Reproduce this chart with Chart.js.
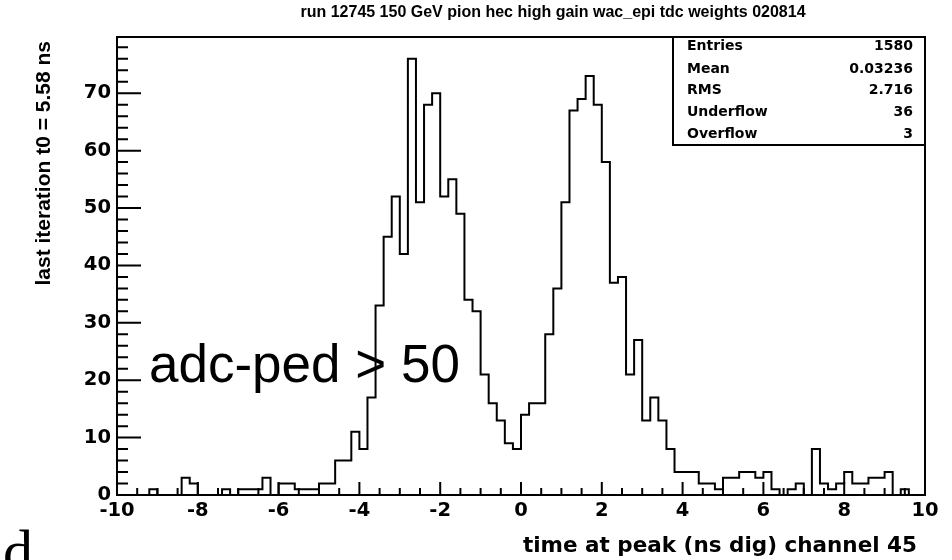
<!DOCTYPE html>
<html>
<head>
<meta charset="utf-8">
<script src="https://cdn.jsdelivr.net/npm/chart.js@4.4.1/dist/chart.umd.min.js"></script>
<style>
  body { margin: 0; background: #fff; }
  #wrap { width: 952px; height: 560px; }
</style>
</head>
<body>
<div id="wrap"><canvas id="mycanvas1" width="952" height="560"></canvas></div>
<script>
// histogram: 100 bins from -10 to 10
var xLow = -10, xHigh = 10, binWidth = 0.2;
var counts = [
  0, 0, 0, 0, 0, 1, 0, 0, 0, 3,
  2, 0, 0, 0, 1, 0, 1, 1, 1, 3,
  0, 2, 2, 1, 1, 1, 2, 2, 6, 6,
  11, 8, 17, 33, 45, 52, 42, 76, 51, 68,
  70, 52, 55, 49, 34, 32, 21, 16, 13, 9,
  8, 14, 16, 16, 28, 36, 51, 67, 69, 73,
  68, 58, 37, 38, 21, 27, 13, 17, 13, 8,
  4, 4, 4, 2, 2, 1, 3, 3, 4, 4,
  3, 4, 1, 0, 1, 2, 0, 8, 2, 1,
  2, 4, 2, 2, 3, 3, 4, 0, 1, 0
];
var xTicks = [-10, -8, -6, -4, -2, 0, 2, 4, 6, 8, 10];
var yTicks = [0, 10, 20, 30, 40, 50, 60, 70];
var yMax = 79.8;
var xMinorStep = 0.5, yMinorStep = 2;

var histTitle = "run 12745 150 GeV pion hec high gain wac_epi tdc weights 020814";
var xTitle = "time at peak (ns dig) channel 45";
var yTitle = "last iteration t0 = 5.58 ns";
var note = "adc-ped > 50";
var statsLabels = ["Entries", "Mean", "RMS", "Underflow", "Overflow"];
var statsValues = ["1580", "0.03236", "2.716", "36", "3"];

var pts = [];
for (var i = 0; i < counts.length; i++) {
  pts.push({ x: xLow + i * binWidth, y: counts[i] });
}
pts.push({ x: xHigh, y: counts[counts.length - 1] });

var font = "'Liberation Sans', Arial, Helvetica, sans-serif";
var wide = "'DejaVu Sans', Verdana, sans-serif";

var rootLook = {
  id: 'rootLook',
  beforeDraw: function(chart) {
    var c = chart.ctx;
    c.save();
    c.fillStyle = '#fff';
    c.fillRect(0, 0, chart.width, chart.height);
    c.restore();
  },
  afterDraw: function(chart) {
    var c = chart.ctx, a = chart.chartArea;
    var xs = chart.scales.x, ys = chart.scales.y;
    c.save();
    c.strokeStyle = '#000';
    c.fillStyle = '#000';
    c.lineWidth = 2;
    c.strokeRect(a.left, a.top, a.right - a.left, a.bottom - a.top);

    // ticks, drawn inward
    c.beginPath();
    for (var v = 0; v <= yMax; v += yMinorStep) {
      var py = ys.getPixelForValue(v);
      var len = (v % 10 === 0) ? 24 : 11;
      c.moveTo(a.left, py); c.lineTo(a.left + len, py);
    }
    for (var x = xLow; x <= xHigh + 1e-9; x += xMinorStep) {
      var px = xs.getPixelForValue(x);
      var l2 = (Math.abs(x % 2) < 1e-9) ? 13 : 7;
      c.moveTo(px, a.bottom); c.lineTo(px, a.bottom - l2);
    }
    c.stroke();

    // stats box
    var bx = 673;
    c.beginPath();
    c.moveTo(bx, a.top); c.lineTo(bx, 145); c.lineTo(a.right, 145);
    c.stroke();
    c.font = "bold 14px " + wide;
    c.textBaseline = 'middle';
    var rowsY = [46, 69, 90, 112, 134];
    for (var k = 0; k < statsLabels.length; k++) {
      c.textAlign = 'left';
      c.fillText(statsLabels[k], 687, rowsY[k]);
      c.textAlign = 'right';
      c.fillText(statsValues[k], 913, rowsY[k]);
    }

    // title
    c.font = "bold 16px " + font;
    c.textAlign = 'center';
    c.fillText(histTitle, 553, 13);

    // x title
    c.font = "bold 21.5px " + wide;
    c.textAlign = 'right';
    c.textBaseline = 'alphabetic';
    c.fillText(xTitle, 917, 552);

    // y title
    c.save();
    c.translate(50, 41);
    c.rotate(-Math.PI / 2);
    c.textAlign = 'right';
    c.font = "bold 21px " + font;
    c.fillText(yTitle, 0, 0);
    c.restore();

    // annotation
    c.font = "53px " + font;
    c.textAlign = 'left';
    c.fillText(note, 149, 382);

    // cut-off glyph at bottom left
    c.font = "60px 'Liberation Serif', 'DejaVu Serif', serif";
    c.fillText("d", 3, 571);
    c.restore();
  }
};

var ctx = document.getElementById('mycanvas1');
new Chart(ctx, {
  type: 'line',
  data: {
    datasets: [{
      label: 'hist',
      data: pts,
      stepped: 'after',
      borderColor: '#000',
      borderWidth: 2,
      pointRadius: 0,
      fill: false,
      tension: 0
    }]
  },
  options: {
    responsive: false,
    animation: false,
    events: [],
    layout: { padding: { top: 37, right: 27, left: 0, bottom: 0 } },
    plugins: { legend: { display: false }, title: { display: false }, tooltip: { enabled: false } },
    scales: {
      x: {
        type: 'linear', min: xLow, max: xHigh,
        grid: { display: false, drawTicks: false },
        border: { display: false },
        afterBuildTicks: function(s) { s.ticks = xTicks.map(function(v) { return { value: v }; }); },
        afterFit: function(s) { s.height = 65; },
        ticks: { color: '#000', padding: 4, maxRotation: 0, autoSkip: false,
                 font: { family: wide, size: 19.5, weight: 'bold' } }
      },
      y: {
        type: 'linear', min: 0, max: yMax,
        grid: { display: false, drawTicks: false },
        border: { display: false },
        afterBuildTicks: function(s) { s.ticks = yTicks.map(function(v) { return { value: v }; }); },
        afterFit: function(s) { s.width = 117; },
        ticks: { color: '#000', padding: 6, autoSkip: false,
                 font: { family: wide, size: 19.5, weight: 'bold' } }
      }
    }
  },
  plugins: [rootLook]
});
</script>
</body>
</html>
